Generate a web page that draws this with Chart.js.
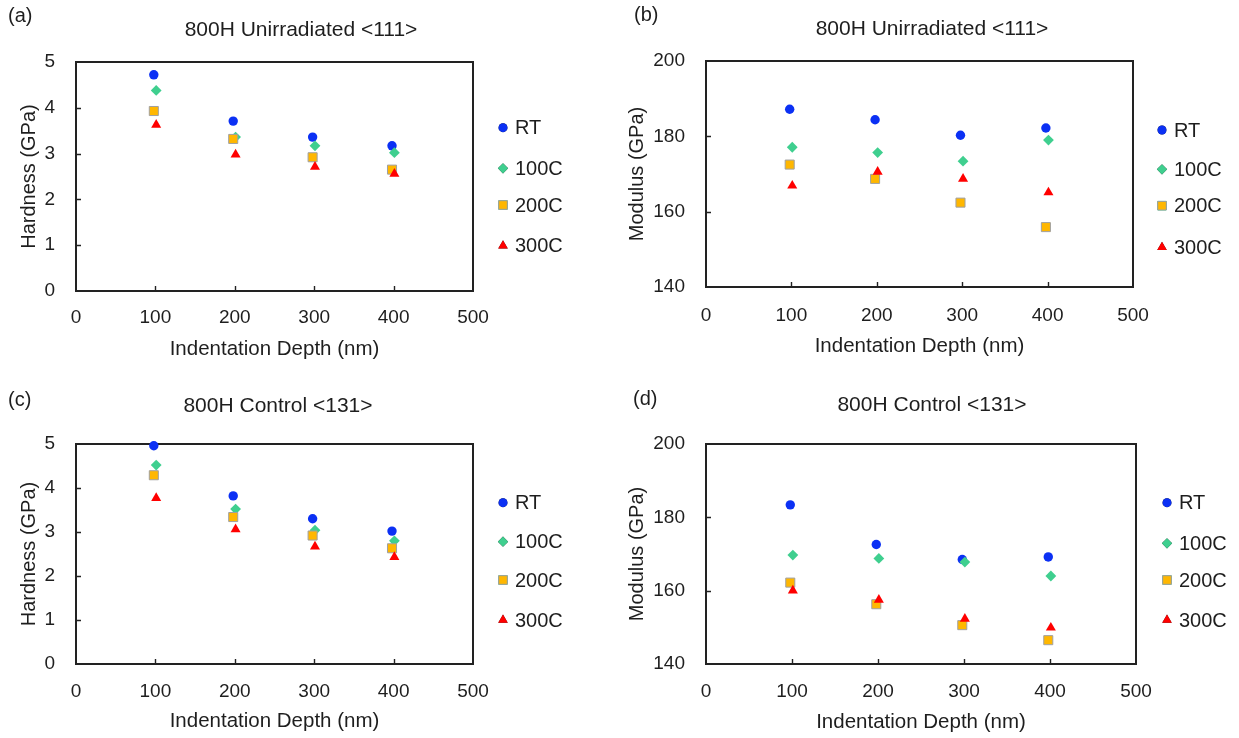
<!DOCTYPE html>
<html>
<head>
<meta charset="utf-8">
<script src="https://cdn.jsdelivr.net/npm/chart.js@4.4.1/dist/chart.umd.min.js"></script>
<style>
  html, body { margin: 0; padding: 0; background: #fff; }
  body { width: 1239px; height: 738px; position: relative; overflow: hidden; }
  canvas { position: absolute; }
</style>
</head>
<body>
<canvas id="pa" width="620" height="369" style="left:0;top:0"></canvas>
<canvas id="pb" width="619" height="369" style="left:620px;top:0"></canvas>
<canvas id="pc" width="620" height="369" style="left:0;top:369px"></canvas>
<canvas id="pd" width="619" height="369" style="left:620px;top:369px"></canvas>
<script>
// Indentation depths (nm); RT/200C and 100C/300C were measured at slightly different depths
const depthsRT200 = [98, 198, 298, 398];
const depths100300 = [101, 201, 301, 401];
const seriesNames = ['RT', '100C', '200C', '300C'];
const xTicks = [0, 100, 200, 300, 400, 500];

// 800H Unirradiated <111> – hardness (GPa)
const h111RT   = [4.72, 3.71, 3.36, 3.17];
const h111C100 = [4.38, 3.36, 3.17, 3.02];
const h111C200 = [3.93, 3.32, 2.92, 2.65];
const h111C300 = [3.63, 2.98, 2.71, 2.56];

// 800H Unirradiated <111> – modulus (GPa)
const m111RT   = [187.2, 184.4, 180.3, 182.2];
const m111C100 = [177.1, 175.7, 173.4, 179.0];
const m111C200 = [172.5, 168.7, 162.4, 155.9];
const m111C300 = [166.9, 170.6, 168.7, 165.1];

// 800H Control <131> – hardness (GPa)
const h131RT   = [4.96, 3.82, 3.30, 3.02];
const h131C100 = [4.52, 3.52, 3.04, 2.80];
const h131C200 = [4.29, 3.34, 2.92, 2.63];
const h131C300 = [3.77, 3.06, 2.67, 2.43];

// 800H Control <131> – modulus (GPa)
const m131RT   = [183.4, 172.6, 168.5, 169.2];
const m131C100 = [169.7, 168.8, 167.8, 164.0];
const m131C200 = [162.2, 156.3, 150.6, 146.5];
const m131C300 = [160.0, 157.5, 152.3, 149.9];

const hardnessTicks = [0, 1, 2, 3, 4, 5];
const modulusTicks = [140, 160, 180, 200];

const FONT = '"Liberation Sans", Arial, Helvetica, sans-serif';
const INK = '#1e1e1e';

const markerStyles = [
  { pointStyle: 'circle',   radius: 4.7, bg: '#0b30f4', border: '#0b30f4', bw: 0 },
  { pointStyle: 'rectRot',  radius: 5.4, bg: '#3fcf8f', border: '#3fcf8f', bw: 0 },
  { pointStyle: 'rect',     radius: 6.4, bg: '#ffb700', border: '#a0a0a0', bw: 1 },
  { pointStyle: 'triangle', radius: 5.8, bg: '#ff0000', border: '#ff0000', bw: 0 }
];

function toPoints(xs, ys) { return xs.map((x, i) => ({ x: x, y: ys[i] })); }

// Box frame, inward tick marks, panel tag, title and legend
const decorations = {
  id: 'decorations',
  beforeDatasetsDraw(chart, args, opts) {
    const { ctx, chartArea: a, scales } = chart;
    ctx.save();
    ctx.strokeStyle = '#222';
    ctx.lineWidth = 1.4;
    const tl = 5;
    ctx.beginPath();
    xTicks.slice(1, -1).forEach(v => {
      const px = Math.round(scales.x.getPixelForValue(v)) + 0.5;
      ctx.moveTo(px, a.bottom); ctx.lineTo(px, a.bottom - tl);
    });
    opts.yTicks.slice(1, -1).forEach(v => {
      const py = Math.round(scales.y.getPixelForValue(v)) + 0.5;
      ctx.moveTo(a.left, py); ctx.lineTo(a.left + tl, py);
    });
    ctx.stroke();
    ctx.lineWidth = 2;
    ctx.strokeRect(a.left, a.top, a.right - a.left, a.bottom - a.top);
    ctx.restore();
  },
  afterDraw(chart, args, opts) {
    const { ctx } = chart;
    ctx.save();
    ctx.fillStyle = INK;
    ctx.textBaseline = 'middle';
    ctx.font = '20px ' + FONT;
    ctx.textAlign = 'left';
    ctx.fillText(opts.tag, opts.tagPos[0], opts.tagPos[1]);
    ctx.font = '21px ' + FONT;
    ctx.textAlign = 'center';
    ctx.fillText(opts.title, opts.titlePos[0], opts.titlePos[1]);
    ctx.font = '20px ' + FONT;
    ctx.textAlign = 'left';
    chart.data.datasets.forEach((ds, i) => {
      const y = opts.legend.ys[i];
      Chart.helpers.drawPoint(ctx, {
        pointStyle: ds.pointStyle,
        radius: ds.pointRadius * 0.95,
        rotation: 0,
        borderWidth: ds.pointBorderWidth
      }, opts.legend.mx, y);
      ctx.fillStyle = ds.pointBackgroundColor;
      ctx.strokeStyle = ds.pointBorderColor;
      ctx.lineWidth = ds.pointBorderWidth;
      ctx.fill();
      if (ds.pointBorderWidth) ctx.stroke();
      ctx.fillStyle = INK;
      ctx.fillText(ds.label, opts.legend.tx, y + 1);
    });
    ctx.restore();
  }
};

function makePanel(p) {
  const canvas = document.getElementById(p.id);
  const W = canvas.width, H = canvas.height;
  const datasets = p.series.map((ys, i) => {
    const m = markerStyles[i];
    return {
      label: seriesNames[i],
      data: toPoints(i === 0 || i === 2 ? depthsRT200 : depths100300, ys),
      showLine: false,
      pointStyle: m.pointStyle,
      pointRadius: m.radius,
      pointHoverRadius: m.radius,
      pointBackgroundColor: m.bg,
      pointBorderColor: m.border,
      pointBorderWidth: m.bw,
      clip: false,
      order: 4 - i
    };
  });
  return new Chart(canvas, {
    type: 'scatter',
    data: { datasets },
    options: {
      responsive: false,
      animation: false,
      events: [],
      layout: { padding: { left: 0, top: p.area.top, right: W - p.area.right, bottom: 0 } },
      plugins: {
        legend: { display: false },
        title: { display: false },
        tooltip: { enabled: false },
        decorations: {
          tag: p.tag, tagPos: p.tagPos, title: p.title, titlePos: p.titlePos,
          legend: p.legend, yTicks: p.yTicks
        }
      },
      scales: {
        x: {
          type: 'linear', min: 0, max: 500,
          afterBuildTicks: s => { s.ticks = xTicks.map(v => ({ value: v })); },
          afterFit: s => { s.height = H - p.area.bottom; },
          grid: { display: false, drawTicks: false },
          border: { display: false },
          ticks: { padding: p.xTickPad, color: INK, font: { family: FONT, size: 19 }, maxRotation: 0, autoSkip: false },
          title: { display: true, text: 'Indentation Depth (nm)', color: INK,
                   font: { family: FONT, size: 20.5 }, padding: { top: 0, bottom: H - p.xTitleY - 12.3 } }
        },
        y: {
          type: 'linear', min: p.yTicks[0], max: p.yTicks[p.yTicks.length - 1],
          afterBuildTicks: s => { s.ticks = p.yTicks.map(v => ({ value: v })); },
          afterFit: s => { s.width = p.area.left; },
          grid: { display: false, drawTicks: false },
          border: { display: false },
          ticks: { padding: 21, color: INK, font: { family: FONT, size: 19 } },
          title: { display: true, text: p.yTitle, color: INK,
                   font: { family: FONT, size: 20 }, padding: { top: p.yTitleX - 12, bottom: 0 } }
        }
      }
    },
    plugins: [decorations]
  });
}

makePanel({
  id: 'pa', tag: '(a)', title: '800H Unirradiated <111>', yTitle: 'Hardness (GPa)',
  series: [h111RT, h111C100, h111C200, h111C300], yTicks: hardnessTicks,
  area: { left: 76, right: 473, top: 62, bottom: 291 },
  tagPos: [8, 16], titlePos: [301, 30], yTitleX: 29.6, xTitleY: 349.3, xTickPad: 15.6,
  legend: { mx: 503, tx: 515, ys: [127.7, 168.3, 205, 245.7] }
});
makePanel({
  id: 'pb', tag: '(b)', title: '800H Unirradiated <111>', yTitle: 'Modulus (GPa)',
  series: [m111RT, m111C100, m111C200, m111C300], yTicks: modulusTicks,
  area: { left: 86, right: 513, top: 61, bottom: 287 },
  tagPos: [14, 15], titlePos: [312, 29.3], yTitleX: 17.8, xTitleY: 346.7, xTickPad: 17.3,
  legend: { mx: 542, tx: 554, ys: [130, 169.3, 205.7, 247.3] }
});
makePanel({
  id: 'pc', tag: '(c)', title: '800H Control <131>', yTitle: 'Hardness (GPa)',
  series: [h131RT, h131C100, h131C200, h131C300], yTicks: hardnessTicks,
  area: { left: 76, right: 473, top: 75, bottom: 295 },
  tagPos: [8, 31], titlePos: [278, 37.7], yTitleX: 29.6, xTitleY: 352.7, xTickPad: 16,
  legend: { mx: 503, tx: 515, ys: [133.7, 172.7, 211, 251] }
});
makePanel({
  id: 'pd', tag: '(d)', title: '800H Control <131>', yTitle: 'Modulus (GPa)',
  series: [m131RT, m131C100, m131C200, m131C300], yTicks: modulusTicks,
  area: { left: 86, right: 516, top: 75, bottom: 295 },
  tagPos: [13, 30], titlePos: [312, 36], yTitleX: 17.8, xTitleY: 353.3, xTickPad: 16,
  legend: { mx: 547, tx: 559, ys: [133.7, 174.3, 211, 251] }
});
</script>
</body>
</html>
